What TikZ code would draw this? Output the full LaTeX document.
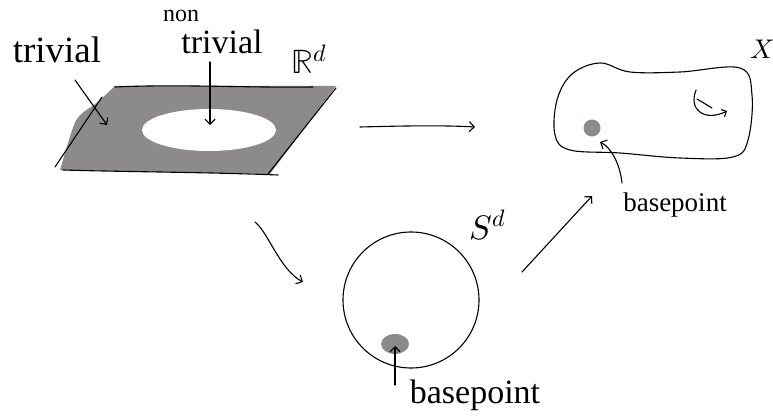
\documentclass[tikz,border=0pt]{standalone}
\usepackage{fontspec}
\usepackage{unicode-math}
\setmainfont{Liberation Serif}
\setmathfont{Latin Modern Math}
\usetikzlibrary{arrows.meta}
\definecolor{blob}{RGB}{140,138,138}
\begin{document}
\begin{tikzpicture}[x=1pt,y=-1pt, line cap=round, line join=round,
 ink/.style={draw=black, line width=1.1pt},
 arr/.style={ink, -{Straight Barb[length=5pt,width=10pt]}},
 lbl/.style={inner sep=0pt}]
\useasboundingbox[fill=white] (0,0) rectangle (773,419);
% plane R^d
\fill[blob] (115,86) -- (336,86) -- (270,174) -- (60,170) .. controls (66,150) and (70,135) .. (74,125) .. controls (78,112) and (92,108) .. (100,100) -- cycle;
\fill[white] (209,130) ellipse [x radius=67, y radius=21];
\draw[ink] (115,87) .. controls (180,84) and (250,88) .. (313,87);
\draw[ink] (336,88) -- (268,174);
\draw[ink] (63,170) .. controls (130,172) and (200,172) .. (278,175);
\draw[ink] (55,167) -- (102,97);
\node[lbl, font=\fontsize{37}{37}\selectfont] (triv) at (57,50) {trivial};
\node[lbl, font=\fontsize{24}{24}\selectfont] (non) at (181,16) {non};
\node[lbl, font=\fontsize{34}{34}\selectfont] (ntriv) at (222,42) {trivial};
\node[lbl, font=\fontsize{34}{34}\selectfont] (Rd) at (309,59) {$\mathbb{R}^d$};
\coordinate (t1) at (75,80); \coordinate (t2) at (107,125);
\draw[arr] (t1) -- (t2);
\coordinate (n1) at (210,62); \coordinate (n2) at (210,125);
\draw[arr] (n1) -- (n2);
% arrows between
\coordinate (a1) at (360,127); \coordinate (a2) at (475,127);
\draw[arr] (a1) .. controls (400,126) and (440,125) .. (a2);
\coordinate (b1) at (255,222); \coordinate (b2) at (303,282);
\draw[arr] (b1) .. controls (268,232) and (280,270) .. (b2);
\coordinate (c1) at (522,272); \coordinate (c2) at (592,196);
\draw[arr] (c1) -- (c2);
% space X
\draw[ink] plot[smooth cycle, tension=0.6] coordinates {(557,100) (572,74) (600,63) (630,72) (680,72) (740,68) (752,95) (748,140) (733,157) (680,158) (620,153) (570,150) (555,135)};
\node[lbl, font=\fontsize{27}{27}\selectfont] (X) at (762,49) {$X$};
\fill[blob] (592,128) circle (8.5);
\draw[ink, -{Straight Barb[length=4pt,width=8pt]}] (696,90) .. controls (688,110) and (705,122) .. (727,111);
\draw[ink] (697,99) -- (712,108);
\node[lbl, font=\fontsize{27}{27}\selectfont] (bp1) at (675,205) {basepoint};
\coordinate (d1) at (622,183); \coordinate (d2) at (600,142);
\draw[arr] (d1) .. controls (620,165) and (612,148) .. (d2);
% sphere
\draw[ink] (411,300) circle (68);
\node[lbl, font=\fontsize{34}{34}\selectfont] (Sd) at (488,225) {$S^d$};
\fill[blob] (395,344) ellipse [x radius=14, y radius=10];
\node[lbl, font=\fontsize{34}{34}\selectfont] (bp2) at (475,395) {basepoint};
\coordinate (e1) at (395,385); \coordinate (e2) at (395,346);
\draw[arr] (e1) -- (e2);
\end{tikzpicture}
\end{document}
